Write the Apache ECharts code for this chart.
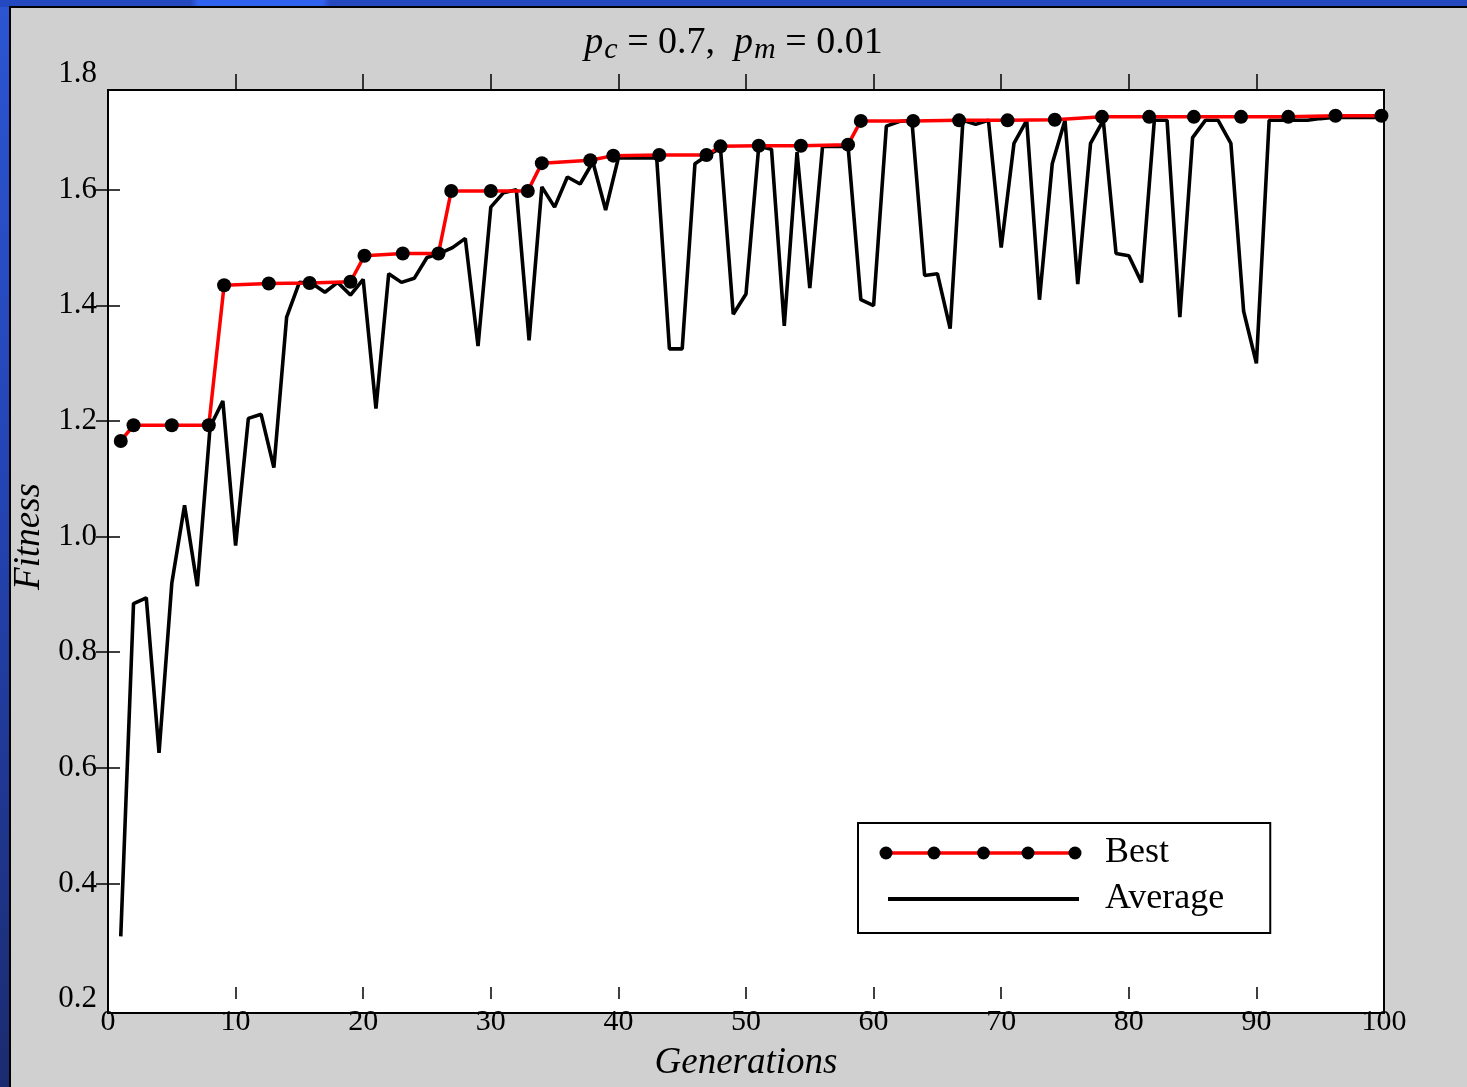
<!DOCTYPE html>
<html><head><meta charset="utf-8">
<script src="https://cdn.jsdelivr.net/npm/echarts@6/dist/echarts.min.js"></script>
<style>
html,body{margin:0;padding:0;width:1467px;height:1087px;overflow:hidden;}
body{background:linear-gradient(180deg,#2c55d2 0%,#2444b4 45%,#1b2b70 100%);position:relative;}
#topbar{position:absolute;left:0;top:0;width:1467px;height:7px;background:linear-gradient(90deg,#2448c0 0%,#2448c0 13%,#2f62ee 13.5%,#2f62ee 22%,#2448c0 22.5%,#2448c0 100%);}
#panel{position:absolute;left:9px;top:6px;width:1458px;height:1081px;background:#d0d0d0;border-left:2px solid #000;border-top:2px solid #000;box-sizing:border-box;}
#chart{position:absolute;left:0;top:0;width:1467px;height:1087px;}
</style></head>
<body><div id="topbar"></div><div id="panel"></div><div id="chart"></div>
<script>
// ---- data ----
const generations = [1,2,3,4,5,6,7,8,9,10,11,12,13,14,15,16,17,18,19,20,21,22,23,24,25,26,27,28,29,30,31,32,33,34,35,36,37,38,39,40,41,42,43,44,45,46,47,48,49,50,51,52,53,54,55,56,57,58,59,60,61,62,63,64,65,66,67,68,69,70,71,72,73,74,75,76,77,78,79,80,81,82,83,84,85,86,87,88,89,90,91,92,93,94,95,96,97,98,99,100];
const averageFitness = [0.31,0.885,0.895,0.627,0.92,1.055,0.915,1.19,1.235,0.985,
  1.205,1.212,1.12,1.38,1.44,1.438,1.423,1.44,1.418,1.445,
  1.222,1.455,1.44,1.447,1.483,1.49,1.50,1.516,1.33,1.57,
  1.595,1.60,1.34,1.605,1.57,1.622,1.61,1.648,1.565,1.655,
  1.655,1.655,1.655,1.325,1.325,1.645,1.66,1.672,1.385,1.42,
  1.675,1.67,1.365,1.665,1.43,1.675,1.675,1.675,1.41,1.40,
  1.71,1.718,1.72,1.452,1.455,1.36,1.72,1.713,1.72,1.50,
  1.68,1.72,1.41,1.645,1.72,1.437,1.68,1.72,1.49,1.486,
  1.44,1.72,1.72,1.38,1.69,1.72,1.72,1.68,1.39,1.30,
  1.72,1.72,1.72,1.72,1.723,1.725,1.725,1.725,1.725,1.725];
const bestGeneration = [1.0,2.0,5.0,7.9,9.1,12.6,15.8,19.0,20.1,23.1,25.9,26.9,30.0,32.9,34.0,37.8,39.6,43.2,46.9,48.0,51.0,54.3,58.0,59.0,63.1,66.7,70.5,74.2,77.9,81.6,85.1,88.8,92.5,96.2,99.8];
const bestFitness = [1.166,1.193,1.193,1.193,1.435,1.438,1.439,1.441,1.486,1.49,1.49,1.598,1.598,1.598,1.646,1.651,1.659,1.66,1.66,1.675,1.676,1.676,1.678,1.719,1.719,1.72,1.72,1.721,1.726,1.726,1.726,1.726,1.726,1.728,1.728];
const xTickValues = [10,20,30,40,50,60,70,80,90];
const yTickValues = [0.4,0.6,0.8,1.0,1.2,1.4,1.6];
const seriesNames = ['Best','Average'];
const axisNames = {x:'Generations', y:'Fitness'};

const SERIF = "'Liberation Serif','DejaVu Serif',serif";
const avgData = generations.map((g,i)=>[g, averageFitness[i]]);
const bestData = bestGeneration.map((g,i)=>[g, bestFitness[i]]);

// legend decoration: extra marker dots on the "Best" legend sample line
const legendDotX = [886, 934, 1028, 1075];
const legendDotY = 853;

const chart = echarts.init(document.getElementById('chart'), null, {renderer:'canvas'});
const option = {
  animation:false,
  backgroundColor:'transparent',
  title:{
    text:'{i|p}{s|c}{n| = 0.7,  }{i|p}{s|m}{n| = 0.01}',
    left:'center', top:15,
    textStyle:{
      fontWeight:'normal',
      rich:{
        i:{fontFamily:SERIF,fontStyle:'italic',fontWeight:'normal',fontSize:38,color:'#000',lineHeight:46},
        s:{fontFamily:SERIF,fontStyle:'italic',fontWeight:'normal',fontSize:30,color:'#000',lineHeight:46,padding:[15,0,0,1]},
        n:{fontFamily:SERIF,fontWeight:'normal',fontSize:38,color:'#000',lineHeight:46}
      }
    }
  },
  legend:{
    orient:'vertical',
    left:858, top:823,
    data:[
      {name:seriesNames[0], lineStyle:{width:3.5,color:'#ff0000'}},
      {name:seriesNames[1], lineStyle:{width:4,color:'#000'}, itemStyle:{opacity:0}}
    ],
    itemWidth:191, itemHeight:16, itemGap:10,
    padding:[12,46,16,28],
    backgroundColor:'#fff', borderColor:'#000', borderWidth:2,
    textStyle:{fontFamily:SERIF,fontSize:36,color:'#000',padding:[0,0,0,21]}
  },
  graphic: legendDotX.map(x=>({type:'circle',shape:{cx:x,cy:legendDotY,r:6.5},style:{fill:'#000'},z:100})),
  grid:[
    {left:108,right:83,top:90,bottom:74,show:true,backgroundColor:'#fff',borderColor:'#000',borderWidth:2},
    {left:108,right:83,top:74,bottom:87,show:false}
  ],
  xAxis:[
    {gridIndex:0,type:'value',min:0,max:100,show:false},
    {gridIndex:1,type:'value',min:0,max:100,interval:10,position:'bottom',
      axisLine:{show:false},
      axisTick:{inside:true,length:12,customValues:xTickValues,lineStyle:{color:'#000',width:1.5}},
      axisLabel:{fontFamily:SERIF,fontSize:30,color:'#000',margin:8},
      splitLine:{show:false},
      name:axisNames.x,nameLocation:'middle',nameGap:46,
      nameTextStyle:{fontFamily:SERIF,fontStyle:'italic',fontSize:37,color:'#000'}},
    {gridIndex:1,type:'value',min:0,max:100,interval:10,position:'top',
      axisLine:{show:false},
      axisTick:{inside:true,length:15,customValues:xTickValues,lineStyle:{color:'#000',width:1.5}},
      axisLabel:{show:false},splitLine:{show:false}}
  ],
  yAxis:[
    {gridIndex:0,type:'value',min:0.1775,max:1.7724,show:false},
    {gridIndex:1,type:'value',min:0.2,max:1.8,interval:0.2,position:'left',
      axisLine:{show:false},
      axisTick:{inside:true,length:12,customValues:yTickValues,lineStyle:{color:'#000',width:1.5}},
      axisLabel:{fontFamily:SERIF,fontSize:31,color:'#000',margin:11,padding:[6,0,0,0],formatter:v=>v.toFixed(1)},
      splitLine:{show:false},
      name:axisNames.y,nameLocation:'middle',nameGap:55,nameRotate:90,
      nameTextStyle:{fontFamily:SERIF,fontStyle:'italic',fontSize:37,color:'#000'}},
    {gridIndex:1,type:'value',min:0.2,max:1.8,interval:0.2,position:'right',
      axisLine:{show:false},
      axisTick:{inside:true,length:12,customValues:yTickValues,lineStyle:{color:'#000',width:1.5}},
      axisLabel:{show:false},splitLine:{show:false}}
  ],
  series:[
    {name:'Average',type:'line',xAxisIndex:0,yAxisIndex:0,data:avgData,
      showSymbol:false,symbol:'none',
      lineStyle:{color:'#000',width:3.6},itemStyle:{color:'#000'},z:2},
    {name:'Best',type:'line',xAxisIndex:0,yAxisIndex:0,data:bestData,
      symbol:'circle',symbolSize:14,showAllSymbol:true,
      lineStyle:{color:'#ff0000',width:3.5},itemStyle:{color:'#000'},z:3}
  ]
};
chart.setOption(option);
</script>
</body></html>
